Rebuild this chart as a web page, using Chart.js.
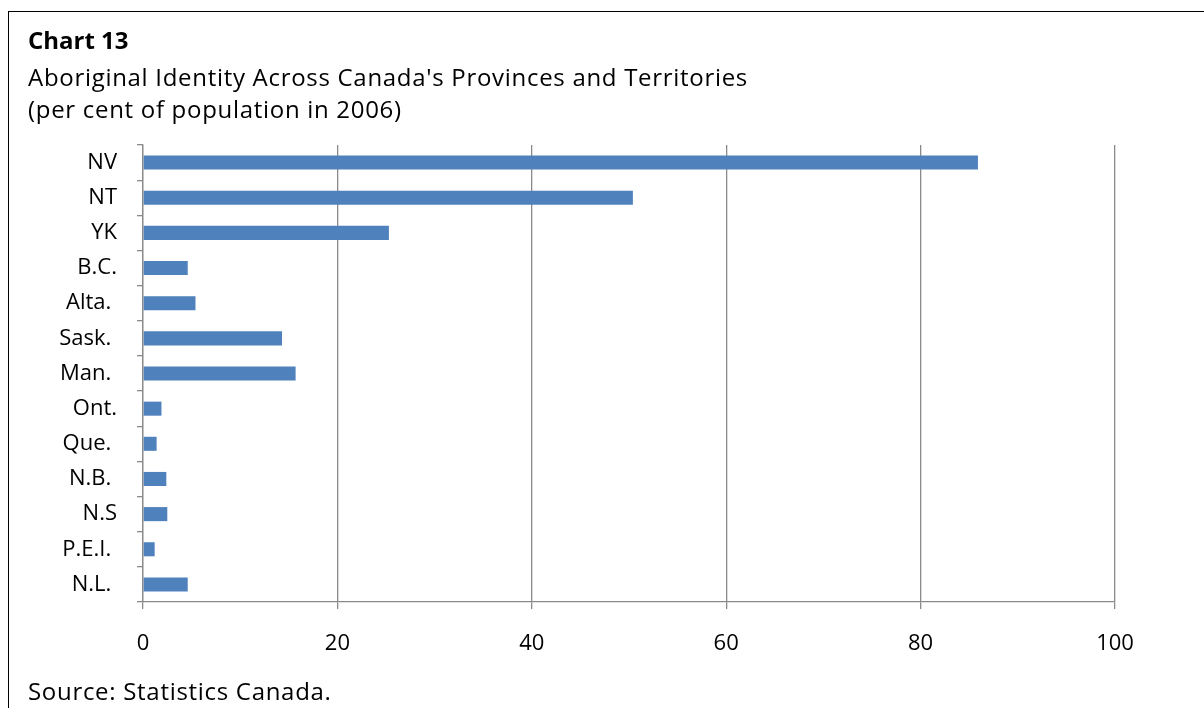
<!DOCTYPE html>
<html>
<head>
<meta charset="utf-8">
<script src="https://cdn.jsdelivr.net/npm/chart.js@4.4.1/dist/chart.umd.min.js"></script>
<style>
  html, body { margin: 0; padding: 0; background: #fff; }
  #wrap { position: relative; width: 1204px; height: 708px; overflow: hidden; font-family: "Open Sans", Lato, sans-serif; color: #000; }
  #frame { position: absolute; left: 8px; top: 11px; width: 1300px; height: 800px; border-left: 1px solid #000; border-top: 1px solid #000; }
  .t { position: absolute; left: 28px; line-height: 1; white-space: pre; }
  .s { font-size: 24px; letter-spacing: 0.7px; }
  #c { position: absolute; left: 0; top: 0; }
</style>
</head>
<body>
<div id="wrap">
  <div id="frame"></div>
  <canvas id="c" width="1204" height="708"></canvas>
  <div class="t" style="top:28px;font-size:24px;font-weight:bold;">Chart 13</div>
  <div class="t s" style="top:65px;">Aboriginal Identity Across Canada's Provinces and Territories</div>
  <div class="t s" style="top:97px;">(per cent of population in 2006)</div>
  <div class="t s" style="top:679px;">Source: Statistics Canada.</div>
</div>
<script>
const categories = ["NV", "NT", "YK", "B.C.", "Alta. ", "Sask. ", "Man. ", "Ont.", "Que. ", "N.B. ", "N.S", "P.E.I. ", "N.L. "];
const values = [85.9, 50.4, 25.3, 4.6, 5.4, 14.3, 15.7, 1.9, 1.4, 2.4, 2.5, 1.2, 4.6];
const xTicks = [0, 20, 40, 60, 80, 100];

const gridColor = '#8a8a8a';
new Chart(document.getElementById('c'), {
  type: 'bar',
  data: {
    labels: categories,
    datasets: [{
      data: values,
      backgroundColor: '#4f81bd',
      borderColor: '#4f81bd',
      borderWidth: 0,
      categoryPercentage: 1.0,
      barPercentage: 0.4
    }]
  },
  options: {
    indexAxis: 'y',
    responsive: false,
    animation: false,
    devicePixelRatio: 1,
    layout: { padding: { top: 145, right: 89, left: 0, bottom: 0 } },
    plugins: { legend: { display: false }, tooltip: { enabled: false }, title: { display: false } },
    scales: {
      x: {
        min: xTicks[0], max: xTicks[xTicks.length - 1],
        afterBuildTicks: (s) => { s.ticks = xTicks.map(v => ({ value: v })); },
        afterFit: (s) => { s.height = 106; },
        grid: { color: gridColor, lineWidth: 1.3, drawTicks: true, tickLength: 7, tickColor: gridColor },
        border: { display: true, color: gridColor, width: 1.3 },
        ticks: { color: '#000', font: { family: 'Open Sans', size: 22 }, padding: 22 }
      },
      y: {
        afterFit: (s) => { s.width = 143; },
        grid: { drawOnChartArea: false, drawTicks: true, tickLength: 6, color: gridColor, lineWidth: 1.3, offset: true },
        border: { display: true, color: gridColor, width: 1.3 },
        ticks: { color: '#000', font: { family: 'Open Sans', size: 22 }, padding: 20, autoSkip: false }
      }
    }
  }
});
</script>
</body>
</html>
